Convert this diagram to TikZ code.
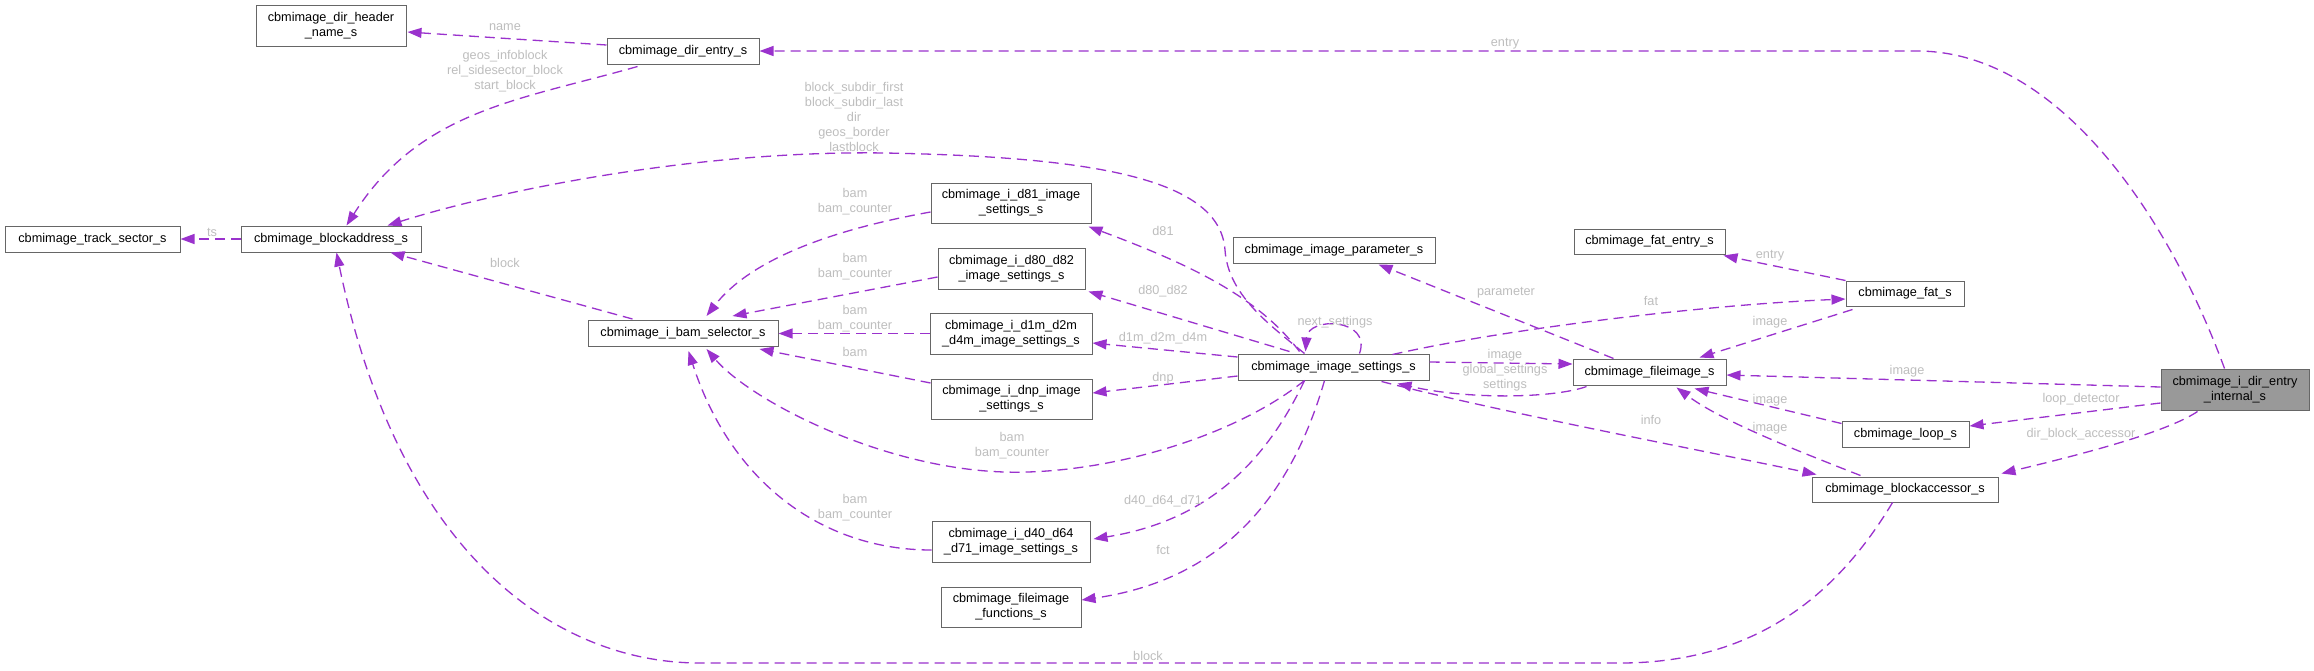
\documentclass[tikz,border=0pt]{standalone}
\usepackage{fontspec}
\setmainfont{Liberation Sans}
\usetikzlibrary{arrows.meta,calc}
\definecolor{edgec}{HTML}{9A32CD}
\definecolor{lblc}{HTML}{BEBEBE}
\definecolor{boxc}{HTML}{666666}
\definecolor{rootc}{HTML}{999999}
\newcommand\dfont{\fontsize{12.7}{15}\selectfont}
\begin{document}
\begin{tikzpicture}[x=1pt,y=-1pt,
  box/.style={draw=boxc,line width=1pt,fill=white,inner sep=0pt,align=center,font=\dfont,text=black},
  lbl/.style={font=\dfont,text=lblc,inner sep=0pt,align=center},
  dep/.style={draw=edgec,line width=1.3pt,dash pattern=on 10pt off 6pt,-{Triangle[length=14pt,width=10pt]}}]
\useasboundingbox[fill=white] (0,0) rectangle (2314,670);
% nodes
\node[box,minimum width=150pt,minimum height=41pt] (hdr) at (331,25.5) {cbmimage\_dir\_header\\\_name\_s};
\node[box,minimum width=152pt,minimum height=26pt] (dent) at (683,51) {cbmimage\_dir\_entry\_s};
\node[box,minimum width=175pt,minimum height=26pt] (ts) at (92.5,239) {cbmimage\_track\_sector\_s};
\node[box,minimum width=180pt,minimum height=26pt] (ba) at (331,239) {cbmimage\_blockaddress\_s};
\node[box,minimum width=190pt,minimum height=26pt] (bam) at (683,333.5) {cbmimage\_i\_bam\_selector\_s};
\node[box,minimum width=160pt,minimum height=40pt] (d81) at (1011,203) {cbmimage\_i\_d81\_image\\\_settings\_s};
\node[box,minimum width=147pt,minimum height=41pt] (d80) at (1011.5,268.5) {cbmimage\_i\_d80\_d82\\\_image\_settings\_s};
\node[box,minimum width=162pt,minimum height=41pt] (d1m) at (1011,333.5) {cbmimage\_i\_d1m\_d2m\\\_d4m\_image\_settings\_s};
\node[box,minimum width=161pt,minimum height=40pt] (dnp) at (1011.5,399) {cbmimage\_i\_dnp\_image\\\_settings\_s};
\node[box,minimum width=158pt,minimum height=41pt] (d40) at (1011,541.5) {cbmimage\_i\_d40\_d64\\\_d71\_image\_settings\_s};
\node[box,minimum width=140pt,minimum height=40pt] (fct) at (1011,607) {cbmimage\_fileimage\\\_functions\_s};
\node[box,minimum width=202pt,minimum height=26pt] (ip) at (1334,250) {cbmimage\_image\_parameter\_s};
\node[box,minimum width=191pt,minimum height=26pt] (is) at (1333.5,367) {cbmimage\_image\_settings\_s};
\node[box,minimum width=151pt,minimum height=25pt] (fe) at (1649.5,241.5) {cbmimage\_fat\_entry\_s};
\node[box,minimum width=118pt,minimum height=25pt] (fat) at (1905,293.5) {cbmimage\_fat\_s};
\node[box,minimum width=153pt,minimum height=26pt] (fi) at (1649.5,372) {cbmimage\_fileimage\_s};
\node[box,minimum width=127pt,minimum height=26pt] (loop) at (1905.5,434) {cbmimage\_loop\_s};
\node[box,minimum width=186pt,minimum height=25pt] (bacc) at (1905,489.5) {cbmimage\_blockaccessor\_s};
\node[box,fill=rootc,minimum width=148pt,minimum height=41pt] (root) at (2235,389.5) {cbmimage\_i\_dir\_entry\\\_internal\_s};
% edges
\draw[dep] ($(dent.west)+(0,-6)$) -- ($(hdr.east)+(1,6.5)$);
\node[lbl] (l1) at (505,27) {name};
\draw[dep] ($(dent.south west)+(31,2)$) .. controls (520,100) and (420,110) .. ($(ba.north west)+(106,0)$);
\node[lbl] (l2) at (505,71) {geos\_infoblock\\rel\_sidesector\_block\\start\_block};
\draw[dep] (ba.west) -- (ts.east);
\node[lbl] (l3) at (212,232) {ts};
\draw[dep] ($(is.north west)+(67,0)$) .. controls (1270,325) and (1228,295) .. (1225,250) .. controls (1220,180) and (1100,157) .. (885,153) .. controls (700,150) and (500,190) .. ($(ba.north west)+(147,0)$);
\node[lbl] (l4) at (854,117) {block\_subdir\_first\\block\_subdir\_last\\dir\\geos\_border\\lastblock};
\draw[dep] ($(d81.west)+(0,9)$) .. controls (830,230) and (750,260) .. ($(bam.north west)+(119,-4)$);
\node[lbl] (l5) at (855,202) {bam\\bam\_counter};
\draw[dep] ($(d80.west)+(0,8.5)$) -- ($(bam.north west)+(145,-4)$);
\node[lbl] (l6) at (855,267) {bam\\bam\_counter};
\draw[dep] (d1m.west) -- (bam.east);
\node[lbl] (l7) at (855,319) {bam\\bam\_counter};
\draw[dep] ($(dnp.west)+(0,-16)$) -- ($(bam.south west)+(172,2)$);
\node[lbl] (l8) at (855,352) {bam};
\draw[dep] ($(is.south west)+(67,0)$) .. controls (1230,440) and (1100,475) .. (1004,472) .. controls (880,468) and (750,400) .. ($(bam.south west)+(119,2)$);
\node[lbl] (l9) at (1012,446) {bam\\bam\_counter};
\draw[dep] ($(d40.west)+(0,8.5)$) .. controls (820,550) and (730,480) .. ($(bam.south west)+(101,4)$);
\node[lbl] (l10) at (855,508) {bam\\bam\_counter};
\draw[dep] ($(bam.north west)+(45,-1)$) -- ($(ba.south east)+(-31,0)$);
\node[lbl] (l11) at (505,263) {block};
\draw[dep] ($(bacc.south west)+(81,0)$) .. controls (1840,590) and (1760,663) .. (1620,663) -- (700,663) .. controls (560,663) and (400,560) .. ($(ba.south west)+(96,0)$);
\node[lbl] (l12) at (1148,656) {block};
\draw[dep] ($(is.north west)+(62,-2)$) .. controls (1260,300) and (1200,268) .. ($(d81.south east)+(-3,3)$);
\node[lbl] (l13) at (1163,231) {d81};
\draw[dep] ($(is.north west)+(52,-2)$) -- ($(d80.south east)+(3,2)$);
\node[lbl] (l14) at (1163,291) {d80\_d82};
\draw[dep] ($(is.west)+(0,-10)$) -- ($(d1m.east)+(0,9.5)$);
\node[lbl] (l15) at (1163,338) {d1m\_d2m\_d4m};
\draw[dep] ($(is.west)+(0,9)$) -- ($(dnp.east)+(0,-6)$);
\node[lbl] (l16) at (1163,378) {dnp};
\draw[dep] ($(is.south west)+(67,0)$) .. controls (1262,470) and (1200,522) .. ($(d40.east)+(3,-2.5)$);
\node[lbl] (l17) at (1163,501) {d40\_d64\_d71};
\draw[dep] ($(is.south west)+(87,0)$) .. controls (1290,500) and (1220,580) .. ($(fct.east)+(0,-7)$);
\node[lbl] (l18) at (1163,550) {fct};
\draw[dep] ($(is.north west)+(122,0)$) .. controls (1372,318) and (1308,316) .. ($(is.north west)+(68,-2)$);
\node[lbl] (l19) at (1335,322) {next\_settings};
\draw[dep] ($(fi.north west)+(41,0)$) -- ($(ip.south west)+(146,1)$);
\node[lbl] (l20) at (1506,293) {parameter};
\draw[dep] ($(is.north west)+(155,1)$) .. controls (1500,330) and (1700,305) .. ($(fat.west)+(0,5.5)$);
\node[lbl] (l21) at (1651,301) {fat};
\draw[dep] (fat.north west) -- ($(fe.south east)+(-2,1)$);
\node[lbl] (l22) at (1770,256) {entry};
\draw[dep] ($(fat.south west)+(7,3)$) -- ($(fi.north west)+(127,-1)$);
\node[lbl] (l23) at (1770,322) {image};
\draw[dep] ($(is.east)+(0,-5)$) -- ($(fi.west)+(0,-8)$);
\node[lbl] (l24) at (1505,355) {image};
\draw[dep] ($(fi.south west)+(14,1)$) .. controls (1555,398) and (1470,400) .. ($(is.south east)+(-32,3)$);
\node[lbl] (l25) at (1505,378) {global\_settings\\settings};
\draw[dep] ($(is.south west)+(144,1)$) .. controls (1500,412) and (1700,450) .. ($(bacc.north west)+(5,-2)$);
\node[lbl] (l26) at (1651,420) {info};
\draw[dep] ($(loop.north west)+(0,3)$) -- ($(fi.south west)+(122,3)$);
\node[lbl] (l27) at (1770,400) {image};
\draw[dep] ($(bacc.north west)+(49,-1)$) .. controls (1790,448) and (1720,420) .. ($(fi.south west)+(104,2)$);
\node[lbl] (l28) at (1770,428) {image};
\draw[dep] ($(root.west)+(0,-2.5)$) -- ($(fi.east)+(0,3)$);
\node[lbl] (l29) at (1907,371) {image};
\draw[dep] ($(root.west)+(0,13.5)$) -- ($(loop.east)+(0,-8)$);
\node[lbl] (l30) at (2081,399) {loop\_detector};
\draw[dep] ($(root.south west)+(37,1)$) .. controls (2170,430) and (2100,450) .. ($(bacc.north east)+(3,-3)$);
\node[lbl] (l31) at (2081,434) {dir\_block\_accessor};
\draw[dep] ($(root.north west)+(64,0)$) .. controls (2170,220) and (2060,51) .. (1917,51) -- (dent.east);
\node[lbl] (l32) at (1505,44) {entry};
\end{tikzpicture}
\end{document}
